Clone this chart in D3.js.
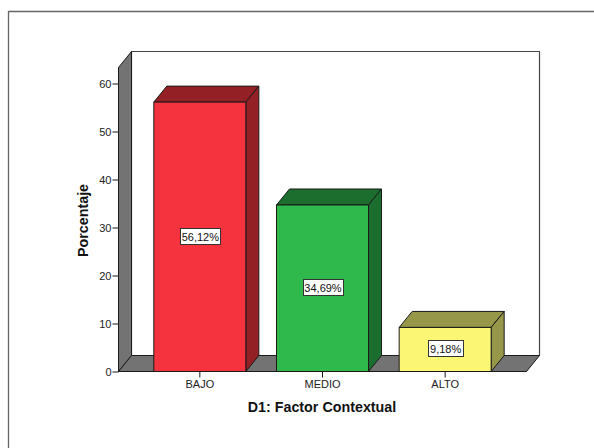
<!DOCTYPE html>
<html><head><meta charset="utf-8">
<script src="https://cdn.jsdelivr.net/npm/d3@7"></script>
<style>html,body{margin:0;padding:0;background:#fff}svg{display:block}text{font-family:"Liberation Sans",Arial,sans-serif}</style>
</head><body><div id="c"></div>
<script>
const categories = ["BAJO","MEDIO","ALTO"];
const values = [56.12,34.69,9.18];
const valueLabels = ["56,12%","34,69%","9,18%"];
const yTicks = [0,10,20,30,40,50,60];
const frontColors = ["#f5333f","#2fb84c","#fbf774"];
const topColors = ["#922024","#1c6e2e","#97974a"];
const xTitle = "D1: Factor Contextual";
const yTitle = "Porcentaje";

const W=594,H=448, dx=13, dy=-16, L=118.5, R=526.5;
const svg=d3.select("#c").append("svg").attr("width",W).attr("height",H);
const y=d3.scaleLinear().domain([0,60]).range([371.5,83.5]);
const x=d3.scaleBand().domain(categories).range([138.5,506.5]).paddingInner(.25).paddingOuter(.125);
const line="#1a1a1a";
const poly=(pts,fill,st,sw)=>svg.append("polygon").attr("points",pts.map(p=>p.join(",")).join(" ")).attr("fill",fill).attr("stroke",st||line).attr("stroke-width",sw||1).attr("stroke-linejoin","round");

// outer frame
svg.append("path").attr("d",`M8.5,${H}V11.5H${W}`).attr("fill","none").attr("stroke","#666").attr("stroke-width",1.3);

const y0=y(0), yTop=67.5;
// back wall, side wall, floor
poly([[L+dx,yTop+dy],[R+dx,yTop+dy],[R+dx,y0+dy],[L+dx,y0+dy]],"#fff","#444",1.2);
poly([[L,yTop],[L+dx,yTop+dy],[L+dx,y0+dy],[L,y0]],"#737373");
poly([[L,y0],[L+dx,y0+dy],[R+dx,y0+dy],[R,y0]],"#737373");

// bars
categories.forEach((c,i)=>{
  const a=x(c), b=a+x.bandwidth(), t=y(values[i]);
  poly([[a,t],[a+dx,t+dy],[b+dx,t+dy],[b,t]],topColors[i]);
  poly([[b,t],[b+dx,t+dy],[b+dx,y0+dy],[b,y0]],topColors[i]);
  poly([[a,t],[b,t],[b,y0],[a,y0]],frontColors[i]);
  const cx=(a+b)/2, cy=(t+y0)/2;
  const w=i==2?35:40;
  const by=Math.floor(cy-8.5);
  svg.append("rect").attr("x",Math.round(cx-w/2)+.5).attr("y",by+.5).attr("width",w).attr("height",16).attr("fill","#fff").attr("stroke","#333");
  svg.append("text").attr("x",cx+.5).attr("y",by+13).attr("text-anchor","middle").attr("font-size",11).attr("fill","#111").text(valueLabels[i]);
});

// axes
const yAxis=d3.axisLeft(y).tickValues(yTicks).tickSize(6).tickPadding(1);
const gy=svg.append("g").attr("transform",`translate(${L},0)`).call(yAxis);
gy.select(".domain").attr("d",`M0,${yTop}V${y0}`).attr("stroke",line);
gy.selectAll(".tick line").attr("stroke",line);
gy.selectAll("text").attr("font-size",11).attr("fill","#222").style("font-family",'"Liberation Sans",Arial,sans-serif');
const xAxis=d3.axisBottom(x).tickSize(6).tickPadding(3);
const gx=svg.append("g").attr("transform",`translate(0,${y0})`).call(xAxis);
gx.select(".domain").attr("d",`M${L},0H${R}`).attr("stroke",line);
gx.selectAll(".tick line").attr("stroke",line);
gx.selectAll("text").attr("font-size",11).attr("fill","#222").style("font-family",'"Liberation Sans",Arial,sans-serif');

svg.append("text").attr("x",322).attr("y",412).attr("text-anchor","middle").attr("font-size",14.3).attr("font-weight","bold").attr("fill","#111").text(xTitle);
svg.append("text").attr("transform","translate(88,220.5) rotate(-90)").attr("text-anchor","middle").attr("font-size",14.3).attr("font-weight","bold").attr("fill","#111").text(yTitle);
</script></body></html>
